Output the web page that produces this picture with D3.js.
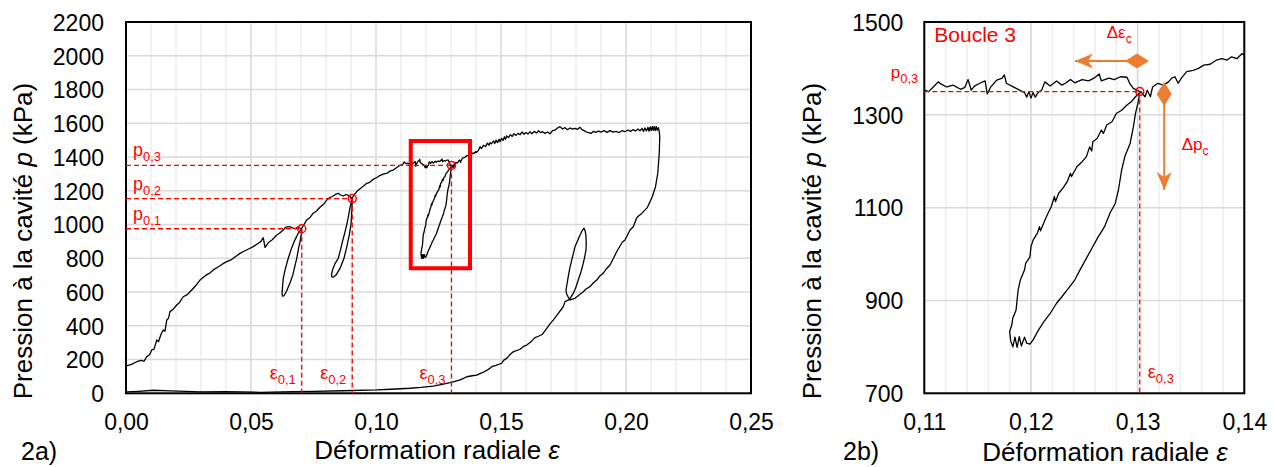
<!DOCTYPE html>
<html>
<head>
<meta charset="utf-8">
<script src="https://cdn.jsdelivr.net/npm/d3@7/dist/d3.min.js"></script>
<style>
  body { margin: 0; background: #fff; }
  svg { display: block; font-family: "Liberation Sans", Arial, sans-serif; }
</style>
</head>
<body>
<svg id="chart" width="1275" height="467"></svg>
<script>
// test curve, pieces in the order they were recorded: [epsilon, p (kPa)]
const loading1 = [[0.0000,162],[0.0020,170],[0.0043,187],[0.0060,195],[0.0072,190],[0.0083,217],[0.0095,230],[0.0103,257],[0.0112,262],[0.0123,316],[0.0130,305],[0.0140,350],[0.0149,375],[0.0156,368],[0.0163,434],[0.0170,445],[0.0176,484],[0.0190,500],[0.0203,523],[0.0215,540],[0.0229,572],[0.0245,585],[0.0263,612],[0.0280,640],[0.0296,671],[0.0320,700],[0.0335,712],[0.0349,731],[0.0370,750],[0.0385,765],[0.0403,780],[0.0420,790],[0.0440,812],[0.0456,829],[0.0470,840],[0.0490,855],[0.0509,869],[0.0525,885],[0.0540,900],[0.0549,922],[0.0556,865],[0.0569,892],[0.0585,910],[0.0603,938],[0.0615,950],[0.0629,968],[0.0640,985],[0.0656,987],[0.0666,980],[0.0676,975],[0.0689,987],[0.0697,978],[0.0703,972]];
const loop1 = [[0.0701,940],[0.0697,905],[0.0691,865],[0.0683,800],[0.0675,750],[0.0667,700],[0.0655,650],[0.0642,605],[0.0632,578],[0.0627,575],[0.0624,585],[0.0626,630],[0.0629,680],[0.0636,730],[0.0649,800],[0.0660,850],[0.0673,900],[0.0688,945],[0.0703,978]];
const loading2 = [[0.0710,995],[0.0723,1027],[0.0735,1040],[0.0749,1067],[0.0762,1080],[0.0776,1102],[0.0790,1120],[0.0803,1145],[0.0815,1160],[0.0829,1169],[0.0840,1180],[0.0849,1185],[0.0858,1175],[0.0869,1169],[0.0880,1178],[0.0889,1173],[0.0897,1165],[0.0905,1154]];
const loop2 = [[0.0904,1100],[0.0900,1000],[0.0892,930],[0.0882,860],[0.0872,800],[0.0856,740],[0.0840,700],[0.0828,688],[0.0823,690],[0.0822,700],[0.0826,730],[0.0835,765],[0.0849,800],[0.0858,850],[0.0866,900],[0.0875,950],[0.0883,1000],[0.0890,1050],[0.0896,1100],[0.0902,1140],[0.0906,1160]];
const loading3 = [[0.0915,1180],[0.0923,1195],[0.0935,1210],[0.0950,1228],[0.0963,1244],[0.0975,1250],[0.0989,1268],[0.1005,1280],[0.1015,1290],[0.1029,1299],[0.1045,1305],[0.1058,1318],[0.1069,1323],[0.1080,1335],[0.1090,1345],[0.1100,1353],[0.1104,1350],[0.1108,1359],[0.1113,1371],[0.1116,1366],[0.1121,1360],[0.1127,1364],[0.1134,1355],[0.1138,1359],[0.1141,1376],[0.1144,1353],[0.1147,1362],[0.1152,1368],[0.1157,1373],[0.1159,1345],[0.1162,1359],[0.1168,1375],[0.1173,1379],[0.1175,1386],[0.1177,1368],[0.1182,1362],[0.1188,1355],[0.1194,1348],[0.1196,1338],[0.1198,1350],[0.1200,1336],[0.1202,1348],[0.1204,1338],[0.1207,1349],[0.1210,1353],[0.1213,1371],[0.1218,1362],[0.1224,1373],[0.1229,1364],[0.1233,1369],[0.1237,1376],[0.1241,1369],[0.1248,1376],[0.1254,1373],[0.1259,1379],[0.1264,1388],[0.1266,1373],[0.1273,1379],[0.1278,1376],[0.1284,1382],[0.1290,1381],[0.1293,1366],[0.1296,1357],[0.1300,1352],[0.1302,1350]];
const loop3 = [[0.1301,1332],[0.1298,1303],[0.1296,1274],[0.1293,1239],[0.1288,1210],[0.1285,1181],[0.1282,1138],[0.1279,1109],[0.1274,1088],[0.1269,1059],[0.1263,1037],[0.1257,1012],[0.1251,987],[0.1246,966],[0.1241,944],[0.1234,923],[0.1229,908],[0.1224,894],[0.1218,872],[0.1212,854],[0.1207,836],[0.1202,815],[0.1199,806],[0.1196,808],[0.1194,821],[0.1191,802],[0.1189,822],[0.1187,799],[0.1185,821],[0.1183,800],[0.1181,813],[0.1180,833],[0.1182,847],[0.1183,862],[0.1186,879],[0.1187,901],[0.1188,923],[0.1190,944],[0.1194,966],[0.1195,980],[0.1199,994],[0.1200,1016],[0.1202,1030],[0.1206,1045],[0.1208,1059],[0.1209,1050],[0.1213,1073],[0.1216,1088],[0.1219,1102],[0.1222,1124],[0.1223,1113],[0.1226,1131],[0.1230,1142],[0.1234,1156],[0.1237,1174],[0.1238,1167],[0.1243,1188],[0.1248,1199],[0.1252,1210],[0.1255,1231],[0.1257,1222],[0.1258,1242],[0.1262,1249],[0.1266,1267],[0.1268,1260],[0.1271,1278],[0.1276,1285],[0.1280,1303],[0.1285,1310],[0.1290,1321],[0.1294,1328],[0.1298,1339],[0.1301,1346],[0.1303,1350]];
const loading4 = [[0.1307,1339],[0.1309,1353],[0.1312,1339],[0.1314,1360],[0.1319,1368],[0.1324,1364],[0.1329,1371],[0.1332,1379],[0.1335,1382],[0.1338,1368],[0.1341,1379],[0.1346,1393],[0.1352,1396],[0.1357,1400],[0.1362,1407],[0.1368,1409],[0.1374,1418],[0.1379,1421],[0.1384,1418],[0.1388,1425],[0.1393,1421],[0.1398,1432],[0.1401,1426],[0.1410,1440],[0.1416,1461],[0.1422,1450],[0.1430,1470],[0.1438,1462],[0.1446,1482],[0.1452,1470],[0.1456,1485],[0.1462,1478],[0.1470,1495],[0.1475,1480],[0.1480,1500],[0.1486,1485],[0.1492,1505],[0.1496,1490],[0.1502,1510],[0.1508,1498],[0.1514,1520],[0.1518,1505],[0.1523,1525],[0.1530,1515],[0.1537,1532],[0.1545,1522],[0.1552,1538],[0.1560,1528],[0.1568,1540],[0.1576,1532],[0.1584,1548],[0.1592,1535],[0.1600,1545],[0.1608,1536],[0.1616,1550],[0.1624,1538],[0.1633,1552],[0.1642,1542],[0.1650,1556],[0.1658,1545],[0.1666,1550],[0.1676,1540],[0.1686,1548],[0.1696,1538],[0.1706,1556],[0.1716,1560],[0.1726,1572],[0.1736,1580],[0.1746,1566],[0.1756,1574],[0.1766,1562],[0.1776,1572],[0.1786,1565],[0.1796,1570],[0.1806,1564],[0.1816,1576],[0.1824,1562],[0.1832,1556],[0.1842,1548],[0.1852,1545],[0.1860,1540],[0.1870,1552],[0.1880,1546],[0.1890,1554],[0.1900,1548],[0.1912,1556],[0.1924,1546],[0.1936,1556],[0.1948,1548],[0.1960,1552],[0.1972,1545],[0.1984,1556],[0.1996,1550],[0.2008,1560],[0.2018,1552],[0.2028,1562],[0.2038,1554],[0.2048,1566],[0.2056,1555],[0.2064,1570],[0.2070,1552],[0.2076,1572],[0.2082,1555],[0.2088,1576],[0.2092,1553],[0.2097,1578],[0.2101,1556],[0.2105,1580],[0.2109,1558],[0.2113,1582],[0.2117,1556],[0.2121,1580],[0.2125,1558],[0.2129,1574],[0.2133,1552],[0.2135,1520]];
const unloading = [[0.2133,1422],[0.2127,1303],[0.2118,1224],[0.2105,1165],[0.2085,1100],[0.2063,1066],[0.2050,1050],[0.2043,1040],[0.2029,987],[0.2016,968],[0.1996,908],[0.1985,895],[0.1963,840],[0.1950,800],[0.1936,760],[0.1920,735],[0.1909,711],[0.1895,695],[0.1883,671],[0.1870,655],[0.1856,632],[0.1840,618],[0.1829,602],[0.1815,585],[0.1796,563],[0.1775,553]];
const loop4 = [[0.1762,590],[0.1760,612],[0.1769,691],[0.1775,740],[0.1783,790],[0.1790,830],[0.1796,869],[0.1805,900],[0.1813,928],[0.1825,965],[0.1832,978],[0.1837,960],[0.1840,930],[0.1841,890],[0.1840,849],[0.1835,810],[0.1829,770],[0.1820,720],[0.1809,671],[0.1800,630],[0.1789,592],[0.1773,555]];
const tail = [[0.1756,543],[0.1749,513],[0.1740,495],[0.1729,474],[0.1709,434],[0.1695,410],[0.1683,385],[0.1666,350],[0.1650,338],[0.1636,330],[0.1620,305],[0.1603,286],[0.1590,278],[0.1576,261],[0.1549,246],[0.1535,228],[0.1525,210],[0.1510,195],[0.1503,178],[0.1480,165],[0.1465,160],[0.1456,148],[0.1430,125],[0.1420,120],[0.1403,108],[0.1385,104],[0.1363,98],[0.1350,88],[0.1336,79],[0.1316,70],[0.1296,63],[0.1260,52],[0.1229,43],[0.1180,35],[0.1136,30],[0.1060,24],[0.1003,20],[0.0869,15],[0.0750,12],[0.0669,10],[0.0536,6],[0.0400,10],[0.0300,8],[0.0176,14],[0.0109,18],[0.0050,12],[0.0000,8]];

// reference points of the three loops
const refNames = ['0,1', '0,2', '0,3'];
const refEps = [0.0703, 0.0905, 0.1302];
const refP = [975, 1154, 1350];

// red frame on 2a) around loop 3
const boxEps = [0.1139, 0.1376];
const boxP = [741, 1495];

// ticks
const xTicksA = [0, 0.05, 0.10, 0.15, 0.20, 0.25];
const yTicksA = [0, 200, 400, 600, 800, 1000, 1200, 1400, 1600, 1800, 2000, 2200];
const xTicksB = [0.11, 0.12, 0.13, 0.14];
const yTicksB = [700, 900, 1100, 1300, 1500];

// arrows on 2b): [eps, p] of the diamond end and the arrow tip
const arrowEps = [[0.12994, 1416], [0.12413, 1416]];
const arrowP = [[0.13249, 1345], [0.13249, 1138]];

const curve = [].concat(loading1, loop1, loading2, loop2, loading3, loop3, loading4, unloading, loop4, tail);

const RED = '#FF0000';
const ORANGE = '#ED7D31';
const svg = d3.select('#chart');
const defs = svg.append('defs');

const fr = d3.formatLocale({ decimal: ',', thousands: ' ', grouping: [3], currency: ['', ''] });
const fmt2 = fr.format('.2f');

defs.append('marker')
  .attr('id', 'stealth').attr('viewBox', '-20 -10 22 20')
  .attr('markerWidth', 22).attr('markerHeight', 20)
  .attr('markerUnits', 'userSpaceOnUse').attr('orient', 'auto')
  .append('path').attr('d', 'M0,0L-18,-7.5L-13,0L-18,7.5Z').attr('fill', ORANGE);
defs.append('marker')
  .attr('id', 'diamond').attr('viewBox', '-13 -9 26 18')
  .attr('markerWidth', 26).attr('markerHeight', 18)
  .attr('markerUnits', 'userSpaceOnUse').attr('orient', 'auto')
  .append('path').attr('d', 'M-12,0L0,-7.5L12,0L0,7.5Z').attr('fill', ORANGE);

function panel(o) {
  const x = d3.scaleLinear().domain(o.xDomain).range([o.left, o.right]);
  const y = d3.scaleLinear().domain(o.yDomain).range([o.bottom, o.top]);
  const g = svg.append('g');

  g.append('g').selectAll('line').data(o.xMinor).join('line')
    .attr('x1', d => x(d)).attr('x2', d => x(d))
    .attr('y1', o.top).attr('y2', o.bottom)
    .attr('stroke', '#eeeeee').attr('stroke-width', 1.5);
  g.append('g').selectAll('line').data(o.xTicks).join('line')
    .attr('x1', d => x(d)).attr('x2', d => x(d))
    .attr('y1', o.top).attr('y2', o.bottom)
    .attr('stroke', '#d9d9d9').attr('stroke-width', 1.5);
  g.append('g').selectAll('line').data(o.yTicks).join('line')
    .attr('x1', o.left).attr('x2', o.right)
    .attr('y1', d => y(d)).attr('y2', d => y(d))
    .attr('stroke', '#d9d9d9').attr('stroke-width', 1.5);

  const clipId = 'clip-' + o.name;
  defs.append('clipPath').attr('id', clipId)
    .append('rect')
    .attr('x', o.left).attr('y', o.top)
    .attr('width', o.right - o.left).attr('height', o.bottom - o.top);

  const line = d3.line().x(d => x(d[0])).y(d => y(d[1]));
  g.append('path')
    .datum(curve)
    .attr('clip-path', `url(#${clipId})`)
    .attr('d', line)
    .attr('fill', 'none')
    .attr('stroke', '#000')
    .attr('stroke-width', 1.3)
    .attr('stroke-linejoin', 'round');

  const ax = g.append('g')
    .attr('transform', `translate(0,${o.bottom})`)
    .call(d3.axisBottom(x).tickValues(o.xTicks).tickFormat(fmt2).tickSize(0));
  ax.select('.domain').remove();
  ax.selectAll('text').attr('y', 37).attr('dy', 0);

  const ay = g.append('g')
    .attr('transform', `translate(${o.left},0)`)
    .call(d3.axisLeft(y).tickValues(o.yTicks).tickFormat(d3.format('d')).tickSize(0).tickPadding(o.yPad));
  ay.select('.domain').remove();
  ay.selectAll('text').attr('dy', '0.36em');

  [ax, ay].forEach(a => a
    .attr('font-size', 23).attr('font-family', null)
    .selectAll('text').attr('fill', '#000'));

  g.append('rect')
    .attr('x', o.left).attr('y', o.top)
    .attr('width', o.right - o.left).attr('height', o.bottom - o.top)
    .attr('fill', 'none').attr('stroke', '#000').attr('stroke-width', 2);

  g.append('text')
    .attr('x', o.xTitleX).attr('y', o.xTitleY)
    .attr('text-anchor', 'middle').attr('font-size', 26)
    .call(t => {
      t.append('tspan').text('Déformation radiale ');
      t.append('tspan').attr('font-style', 'italic').text('ε');
    });

  g.append('text')
    .attr('transform', `translate(${o.yTitleX},241) rotate(-90)`)
    .attr('text-anchor', 'middle').attr('font-size', 26)
    .call(t => {
      t.append('tspan').text('Pression à la cavité ');
      t.append('tspan').attr('font-style', 'italic').text('p');
      t.append('tspan').text(' (kPa)');
    });

  g.append('text')
    .attr('x', o.tagX).attr('y', o.tagY)
    .attr('font-size', 25).text(o.tag);

  return { x, y, g };
}

function subText(g, x, y, main, sub, size, subSize, anchor) {
  const t = g.append('text')
    .attr('x', x).attr('y', y)
    .attr('fill', RED).attr('font-size', size)
    .attr('text-anchor', anchor || 'start');
  t.append('tspan').text(main);
  t.append('tspan').attr('font-size', subSize).attr('dy', 5).text(sub);
  return t;
}

function dashes(p, i) {
  const cx = p.x(refEps[i]);
  const cy = p.y(refP[i]);
  const dash = l => l.attr('stroke', RED).attr('stroke-width', 1.3).attr('stroke-dasharray', '5,3');
  p.g.append('line')
    .attr('x1', p.x.range()[0]).attr('x2', cx)
    .attr('y1', cy).attr('y2', cy)
    .call(dash);
  p.g.append('line')
    .attr('x1', cx).attr('x2', cx)
    .attr('y1', cy).attr('y2', p.y.range()[0])
    .call(dash);
  p.g.append('circle')
    .attr('cx', cx).attr('cy', cy).attr('r', 4)
    .attr('fill', 'none').attr('stroke', RED).attr('stroke-width', 1.5);
}

// ---------- 2a)
const minorA = d3.range(0, 26).map(i => i * 0.01).filter(v => Math.round(v * 100) % 5 !== 0);
const A = panel({
  name: 'a', left: 126, right: 751, top: 22, bottom: 393.3,
  xDomain: [0, 0.25], yDomain: [0, 2200],
  xTicks: xTicksA, yTicks: yTicksA, xMinor: minorA, yPad: 22,
  xTitleX: 437, xTitleY: 459, yTitleX: 31.7,
  tag: '2a)', tagX: 21, tagY: 460
});

refNames.forEach((n, i) => {
  dashes(A, i);
  subText(A.g, A.x(0) + 7, A.y(refP[i]) - 9, 'p', n, 18, 13);
  subText(A.g, A.x(refEps[i]) - 6, A.y.range()[0] - 14, 'ε', n, 18, 13, 'end');
});

A.g.append('rect')
  .attr('x', A.x(boxEps[0])).attr('y', A.y(boxP[1]))
  .attr('width', A.x(boxEps[1]) - A.x(boxEps[0]))
  .attr('height', A.y(boxP[0]) - A.y(boxP[1]))
  .attr('fill', 'none').attr('stroke', RED).attr('stroke-width', 4);

// ---------- 2b)
const minorB = d3.range(0, 16).map(i => 0.11 + i * 0.002);
const B = panel({
  name: 'b', left: 924.3, right: 1244.3, top: 22, bottom: 393.3,
  xDomain: [0.11, 0.14], yDomain: [700, 1500],
  xTicks: xTicksB, yTicks: yTicksB, xMinor: minorB, yPad: 21,
  xTitleX: 1105, xTitleY: 461, yTitleX: 820.7,
  tag: '2b)', tagX: 843, tagY: 460
});

dashes(B, 2);
subText(B.g, B.x(0.11) - 6, B.y(refP[2]) - 14, 'p', refNames[2], 17, 13, 'end');
subText(B.g, B.x(refEps[2]) + 8, B.y.range()[0] - 15, 'ε', refNames[2], 18, 13);

B.g.append('text')
  .attr('x', B.x(0.11) + 10).attr('y', 42)
  .attr('fill', RED).attr('font-size', 21).text('Boucle 3');

[arrowEps, arrowP].forEach(a => {
  B.g.append('line')
    .attr('x1', B.x(a[0][0])).attr('y1', B.y(a[0][1]))
    .attr('x2', B.x(a[1][0])).attr('y2', B.y(a[1][1]))
    .attr('stroke', ORANGE).attr('stroke-width', 2)
    .attr('marker-start', 'url(#diamond)')
    .attr('marker-end', 'url(#stealth)');
});

subText(B.g, B.x(0.1271), B.y(1465), 'Δε', 'c', 17, 12);
subText(B.g, B.x(0.13413), B.y(1224), 'Δp', 'c', 17, 12);
</script>
</body>
</html>
